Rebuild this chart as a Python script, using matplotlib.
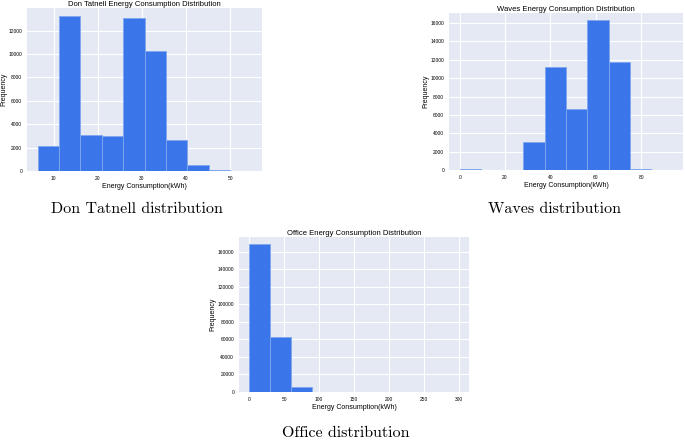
import numpy as np
import matplotlib
matplotlib.use("Agg")
import matplotlib.pyplot as plt

# ---- data ----
don_range = (6.4, 54.8)
don_counts = [2130, 13270, 3050, 2960, 13040, 10250, 2640, 530, 90, 8]

waves_range = (0.0, 93.7)
waves_counts = [60, 50, 50, 3000, 11170, 6700, 16290, 11720, 90, 5]

office_range = (0.0, 300.0)
office_counts = [168400, 62400, 5700, 300, 60, 30, 15, 10, 5, 3]

titles = ["Don Tatnell Energy Consumption Distribution",
          "Waves Energy Consumption Distribution",
          "Office Energy Consumption Distribution"]
captions = ["Don Tatnell distribution", "Waves distribution", "Office distribution"]
xlabel = "Energy Consumption(kWh)"
ylabel = "Frequency"

BG = "#E5E9F4"
BAR = "#3A76EA"
EDGE = "#7FA6F0"
SANS = ["Liberation Sans", "DejaVu Sans"]

fig = plt.figure(figsize=(6.85, 4.42), dpi=100)
fig.patch.set_facecolor("white")

positions = [
    [27/685, 1-171/442, 235/685, 163/442],
    [449/685, 1-170/442, 234/685, 157/442],
    [239/685, 1-392/442, 230/685, 155/442],
]
datasets = [(don_range, don_counts), (waves_range, waves_counts), (office_range, office_counts)]
caption_pos = [(137/685, 1-209/442), (555/685, 1-209/442), (346/685, 1-433/442)]

for pos, (rng, counts), title, cap, cpos in zip(positions, datasets, titles, captions, caption_pos):
    ax = fig.add_axes(pos)
    ax.set_facecolor(BG)
    edges = np.linspace(rng[0], rng[1], len(counts) + 1)
    ax.hist(edges[:-1], bins=edges, weights=counts, color=BAR, edgecolor=EDGE, linewidth=0.6, zorder=2)
    ax.grid(True, color="white", linewidth=0.8, zorder=0)
    ax.set_axisbelow(True)
    for s in ax.spines.values():
        s.set_visible(False)
    ax.tick_params(length=0, labelsize=3.5, pad=3.5)
    for lab in ax.get_xticklabels() + ax.get_yticklabels():
        lab.set_family(SANS)
    ax.set_xlabel(xlabel, fontsize=5.0, labelpad=1.5, family=SANS)
    ax.set_ylabel(ylabel, fontsize=5.0, labelpad=1.0, family=SANS)
    ax.set_title(title, fontsize=5.5, pad=1.5, family=SANS)
    fig.text(cpos[0], cpos[1], cap, family="cmr10", fontsize=11.5, ha="center", va="center")

fig.savefig("out.png", dpi=100)
